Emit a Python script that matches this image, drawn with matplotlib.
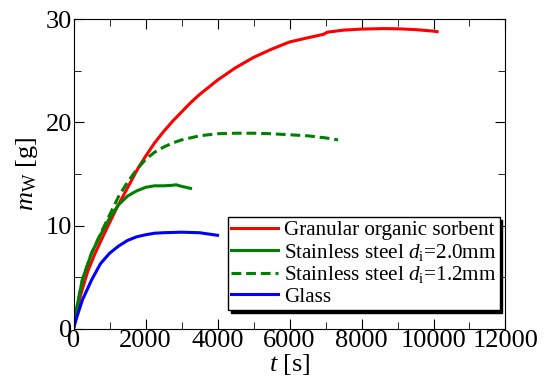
import matplotlib
matplotlib.use("Agg")
import matplotlib.pyplot as plt
from matplotlib.ticker import MultipleLocator

plt.rcParams["font.family"] = ["Liberation Serif", "DejaVu Serif"]
plt.rcParams["mathtext.fontset"] = "custom"
plt.rcParams["mathtext.rm"] = "Liberation Serif"
plt.rcParams["mathtext.it"] = "Liberation Serif:italic"

# granular organic sorbent
t_red = [0, 100, 200, 400, 600, 800, 1000, 1200, 1400, 1600, 1800, 2000, 2250,
         2500, 2750, 3000, 3250, 3500, 4000, 4500, 5000, 5500, 6000, 6500, 6950,
         7050, 7500, 8000, 8600, 9000, 9500, 10000, 10100]
m_red = [0, 1.8, 3.3, 5.6, 7.3, 8.8, 10.25, 11.7, 13.0, 14.3, 15.6, 16.7, 18.0,
         19.1, 20.1, 21.0, 21.9, 22.7, 24.1, 25.3, 26.3, 27.1, 27.8, 28.2, 28.55,
         28.75, 28.95, 29.05, 29.1, 29.08, 29.0, 28.85, 28.8]

# stainless steel di=2.0mm
t_ss20 = [0, 100, 250, 500, 750, 1000, 1250, 1500, 1750, 2000, 2250, 2500,
          2750, 2850, 3000, 3250]
m_ss20 = [0, 2.2, 4.8, 7.3, 9.1, 10.7, 12.0, 12.85, 13.35, 13.7, 13.85, 13.85,
          13.9, 13.95, 13.8, 13.6]

# stainless steel di=1.2mm
t_ss12 = [0, 100, 250, 500, 750, 1000, 1250, 1500, 1750, 2000, 2250, 2500,
          2750, 3000, 3500, 4000, 4500, 5000, 5500, 6000, 6500, 7000, 7350]
m_ss12 = [0, 2.1, 4.8, 7.3, 9.2, 11.0, 12.8, 14.2, 15.4, 16.4, 17.1, 17.6,
          18.0, 18.3, 18.7, 18.9, 18.95, 18.95, 18.9, 18.8, 18.7, 18.5, 18.3]

# glass
t_glass = [0, 100, 250, 500, 750, 1000, 1250, 1500, 1750, 2000, 2250, 2500,
           3000, 3500, 4000]
m_glass = [0, 1.2, 2.8, 4.7, 6.3, 7.3, 8.0, 8.55, 8.9, 9.1, 9.25, 9.3,
           9.35, 9.3, 9.05]

fig = plt.figure(figsize=(5.46, 3.92), dpi=100)
ax = fig.add_axes([73.5 / 546, 1 - 328.6 / 392, 432 / 546, 309.3 / 392])

lw = 2.2
dash = (0, (3.2, 1.6))
ax.plot(t_red, m_red, color="#ff0000", lw=lw, label="Granular organic sorbent")
ax.plot(t_ss20, m_ss20, color="#008000", lw=lw,
        label=r"Stainless steel $d_{\mathrm{i}}$=2.0mm")
ax.plot(t_ss12, m_ss12, color="#008000", lw=lw, ls=dash,
        label=r"Stainless steel $d_{\mathrm{i}}$=1.2mm")
ax.plot(t_glass, m_glass, color="#0000ff", lw=lw, label="Glass")

ax.set_xlim(0, 12000)
ax.set_ylim(0, 30)
ax.xaxis.set_major_locator(MultipleLocator(2000))
ax.xaxis.set_minor_locator(MultipleLocator(1000))
ax.yaxis.set_major_locator(MultipleLocator(10))
ax.yaxis.set_minor_locator(MultipleLocator(5))
ax.tick_params(which="both", direction="in", top=True, right=True, labelsize=19)
ax.tick_params(which="major", length=7)
ax.tick_params(which="minor", length=5)
ax.tick_params(axis="x", pad=1)
ax.tick_params(axis="y", pad=1)

ax.set_xlabel(r"$t$ [s]", fontsize=19, labelpad=0)
ax.set_ylabel(r"$m_{\mathrm{W}}$ [g]", fontsize=19, labelpad=4)

leg = ax.legend(loc="upper left", bbox_to_anchor=(228 / 546, 1 - 217 / 392),
                bbox_transform=fig.transFigure, borderaxespad=0,
                fontsize=15.2, frameon=True, fancybox=False, framealpha=1,
                edgecolor="black", handlelength=2.2, handletextpad=0.3,
                labelspacing=0.08, borderpad=0.15,
                shadow={"color": "black", "alpha": 1})
leg.get_frame().set_linewidth(1.0)

fig.savefig("out.png", dpi=100)
